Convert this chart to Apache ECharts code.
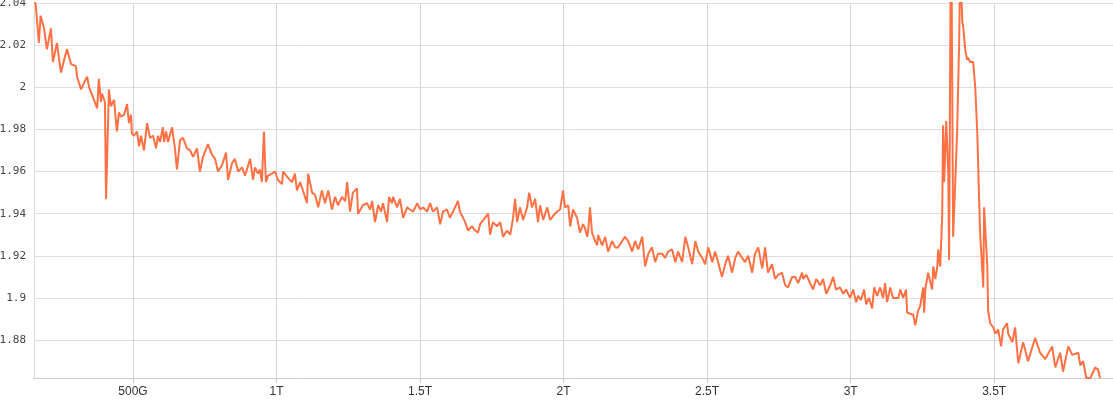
<!DOCTYPE html>
<html>
<head>
<meta charset="utf-8">
<script src="https://cdn.jsdelivr.net/npm/echarts@6/dist/echarts.min.js"></script>
<style>html,body{margin:0;padding:0;background:#fff}#c{width:1113px;height:400px}</style>
</head>
<body>
<div id="c"></div>
<script>
// x in G (tokens), y = loss value
const seg1 = [[155,2.042],[161,2.039],[172,2.021],[178,2.034],[190,2.028],[200,2.018],[214,2.028],[221,2.012],[235,2.021],[249,2.007],[260,2.013],[270,2.018],[284,2.011],[301,2.010],[305,2.005],[319,1.999],[329,2.002],[340,2.005],[347,2.000],[364,1.994],[375,1.990],[381,2.004],[388,1.993],[392,1.997],[402,1.993],[406,1.947],[416,1.999],[423,1.991],[434,1.994],[441,1.983],[444,1.979],[451,1.988],[458,1.986],[469,1.987],[479,1.992],[486,1.983],[493,1.987],[496,1.978],[503,1.977],[514,1.979],[521,1.972],[528,1.977],[538,1.970]];
const seg2 = [[549,1.983],[559,1.976],[570,1.977],[580,1.971],[587,1.977],[594,1.974],[604,1.981],[608,1.974],[615,1.979],[622,1.974],[636,1.981],[646,1.971],[653,1.961],[664,1.975],[674,1.976],[688,1.971],[699,1.970],[709,1.967],[723,1.971],[733,1.960],[744,1.967],[761,1.973],[775,1.968],[786,1.966],[796,1.960],[810,1.963],[824,1.969],[831,1.956],[845,1.964],[855,1.966],[866,1.960],[880,1.962],[890,1.958],[908,1.966],[918,1.956]];
const seg3 = [[925,1.962],[935,1.959],[942,1.961],[949,1.955],[956,1.979],[963,1.955],[970,1.958],[984,1.959],[995,1.960],[1005,1.956],[1019,1.954],[1023,1.960],[1040,1.957],[1054,1.955],[1064,1.959],[1071,1.951],[1082,1.955],[1092,1.951],[1106,1.945],[1110,1.959],[1124,1.950],[1134,1.949],[1145,1.943],[1158,1.951],[1169,1.945],[1180,1.951],[1193,1.942],[1204,1.948],[1214,1.944],[1228,1.948],[1239,1.946],[1246,1.955],[1256,1.941],[1266,1.950],[1280,1.952],[1284,1.940],[1301,1.944]];
const seg4 = [[1315,1.945],[1326,1.942],[1333,1.946],[1343,1.936],[1354,1.944],[1364,1.941],[1371,1.945],[1385,1.936],[1392,1.948],[1402,1.945],[1406,1.948],[1420,1.943],[1430,1.947],[1441,1.938],[1455,1.943],[1465,1.942],[1476,1.941],[1490,1.945],[1500,1.942],[1511,1.943],[1524,1.941],[1535,1.945],[1545,1.941],[1559,1.943],[1570,1.935],[1580,1.941],[1594,1.942],[1604,1.938],[1615,1.941],[1632,1.946],[1639,1.941],[1657,1.936],[1667,1.932],[1681,1.934],[1692,1.932]];
const seg5 = [[1702,1.931],[1709,1.935],[1726,1.938],[1737,1.940],[1744,1.930],[1754,1.936],[1768,1.934],[1779,1.936],[1789,1.929],[1803,1.932],[1814,1.930],[1824,1.938],[1831,1.947],[1838,1.936],[1848,1.943],[1859,1.937],[1873,1.943],[1880,1.950],[1890,1.943],[1901,1.947],[1911,1.936],[1918,1.944],[1929,1.937],[1943,1.943],[1953,1.937],[1964,1.939],[1977,1.941],[1988,1.942],[1998,1.951],[2005,1.943],[2016,1.944],[2023,1.934],[2033,1.942],[2047,1.938],[2057,1.931],[2068,1.935]];
const seg6 = [[2075,1.933],[2082,1.929],[2085,1.931],[2092,1.943],[2099,1.931],[2110,1.927],[2117,1.925],[2120,1.930],[2134,1.925],[2145,1.929],[2155,1.922],[2169,1.927],[2180,1.924],[2190,1.924],[2204,1.927],[2214,1.929],[2225,1.927],[2239,1.922],[2249,1.927],[2260,1.923],[2274,1.929],[2284,1.915],[2295,1.921],[2308,1.924],[2319,1.917],[2329,1.921],[2343,1.921],[2354,1.919],[2364,1.922],[2378,1.923],[2389,1.917],[2399,1.922],[2413,1.917],[2424,1.929],[2434,1.924],[2448,1.916],[2459,1.927]];
const seg7 = [[2469,1.922],[2483,1.919],[2493,1.916],[2504,1.924],[2518,1.917],[2528,1.922],[2538,1.917],[2552,1.910],[2563,1.916],[2573,1.920],[2587,1.912],[2598,1.919],[2608,1.922],[2622,1.919],[2632,1.917],[2643,1.920],[2657,1.912],[2667,1.921],[2678,1.924],[2692,1.914],[2702,1.924],[2712,1.912],[2726,1.916],[2737,1.909],[2747,1.911],[2761,1.912],[2772,1.906],[2782,1.905],[2796,1.910],[2807,1.910],[2817,1.907],[2831,1.912]];
const seg8 = [[2835,1.909],[2845,1.911],[2859,1.907],[2869,1.904],[2880,1.909],[2894,1.906],[2904,1.909],[2915,1.902],[2929,1.906],[2939,1.910],[2949,1.904],[2963,1.905],[2974,1.902],[2984,1.904],[2998,1.900],[3009,1.904],[3019,1.898],[3026,1.901],[3036,1.899],[3047,1.904],[3054,1.897],[3064,1.900],[3075,1.895],[3082,1.905],[3092,1.901],[3103,1.905],[3113,1.900],[3120,1.907],[3127,1.898],[3138,1.905],[3148,1.900],[3166,1.900],[3173,1.904],[3183,1.900],[3193,1.904],[3197,1.893],[3218,1.892],[3225,1.887],[3235,1.894],[3242,1.896],[3253,1.905],[3256,1.893],[3260,1.904],[3270,1.912],[3284,1.904],[3288,1.915],[3295,1.909],[3302,1.915],[3305,1.923],[3312,1.915]];
const seg9 = [[3319,1.939],[3322,1.982],[3326,1.955],[3333,1.984],[3340,1.960],[3343,1.918],[3350,2.090],[3357,1.929],[3364,1.953],[3371,1.979],[3378,2.021],[3382,2.060],[3389,2.031],[3392,2.029],[3399,2.018],[3406,2.013],[3409,2.014],[3416,2.012],[3427,2.012],[3434,2.000],[3441,1.979],[3451,1.931],[3462,1.905],[3465,1.943],[3476,1.915],[3479,1.894],[3486,1.888],[3497,1.886],[3504,1.883],[3514,1.885],[3524,1.877],[3531,1.885],[3545,1.888],[3549,1.883],[3563,1.879],[3573,1.886],[3584,1.869],[3601,1.879],[3618,1.870],[3643,1.881],[3660,1.874],[3678,1.871],[3702,1.877],[3713,1.867],[3730,1.874],[3740,1.865],[3758,1.877],[3772,1.873],[3793,1.874],[3800,1.868],[3810,1.870],[3821,1.862],[3835,1.862],[3852,1.867],[3862,1.866],[3869,1.862]];

const lossData = [].concat(seg1, seg2, seg3, seg4, seg5, seg6, seg7, seg8, seg9);

const chart = echarts.init(document.getElementById('c'), null, {renderer: 'canvas'});
chart.setOption({
  animation: false,
  backgroundColor: '#fff',
  grid: {left: 34, right: 0, top: 3, bottom: 22, containLabel: false, outerBoundsMode: 'none'},
  xAxis: {
    type: 'value',
    min: 155, max: 3914, splitNumber: 7,
    axisLine: {show: true, lineStyle: {color: '#ccc'}},
    axisTick: {show: true, length: 5, lineStyle: {color: '#ccc'}},
    splitLine: {show: true, lineStyle: {color: '#d4d4d4'}},
    axisLabel: {
      showMinLabel: false, showMaxLabel: false,
      color: '#333', fontSize: 12, fontFamily: 'Liberation Sans, Arial, sans-serif', margin: 8,
      formatter: v => v >= 1000 ? (v / 1000) + 'T' : v + 'G'
    }
  },
  yAxis: {
    type: 'value',
    min: 1.862, max: 2.04, splitNumber: 9,
    axisLine: {show: true, lineStyle: {color: '#ddd'}},
    axisTick: {show: false},
    splitLine: {show: true, lineStyle: {color: '#dedede'}},
    axisLabel: {
      showMinLabel: false,
      color: '#444', fontSize: 11, fontFamily: 'DejaVu Sans Mono, monospace', margin: 8
    }
  },
  series: [{
    type: 'line',
    data: lossData,
    showSymbol: false,
    symbol: 'none',
    clip: true,
    lineStyle: {color: '#ff7043', width: 2},
    itemStyle: {color: '#ff7043'}
  }]
});
</script>
</body>
</html>
